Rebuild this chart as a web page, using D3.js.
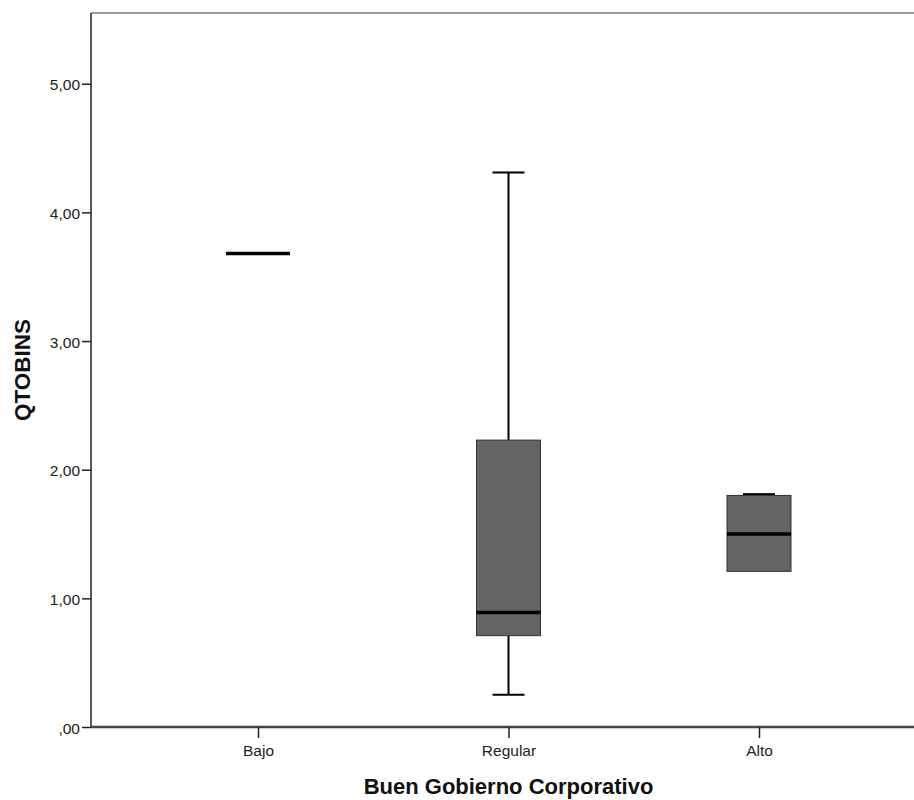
<!DOCTYPE html>
<html>
<head>
<meta charset="utf-8">
<script src="https://cdn.jsdelivr.net/npm/d3@7"></script>
<style>
  html, body { margin: 0; padding: 0; background: #fff; }
  svg { display: block; }
  text { font-family: "Liberation Sans", Arial, sans-serif; }
</style>
</head>
<body>
<svg id="chart" width="914" height="800"></svg>
<script>
// QTOBINS by level of corporate governance
const categories = ["Bajo", "Regular", "Alto"];
const whiskerLow  = [3.68, 0.25, 1.21];
const q1          = [3.68, 0.71, 1.21];
const median      = [3.68, 0.89, 1.50];
const q3          = [3.68, 2.23, 1.80];
const whiskerHigh = [3.68, 4.31, 1.81];
const yTicks = [0, 1, 2, 3, 4, 5];
const yTickLabels = [",00", "1,00", "2,00", "3,00", "4,00", "5,00"];

const svg = d3.select("#chart");
const plotLeft = 91, plotTop = 13, plotBottom = 727, plotRight = 926;

const x = d3.scalePoint().domain(categories).range([plotLeft, plotRight]).padding(2 / 3);
const y = d3.scaleLinear().domain([0, 5.55]).range([plotBottom, plotTop]);

const boxW = 64, capW = 32;

// top frame line
svg.append("line")
  .attr("x1", plotLeft).attr("x2", 914).attr("y1", plotTop).attr("y2", plotTop)
  .attr("stroke", "#9a9a9a").attr("stroke-width", 2);

// y axis
const yAxis = d3.axisLeft(y).tickValues(yTicks)
  .tickFormat((d, i) => yTickLabels[i]).tickSize(9).tickPadding(2).tickSizeOuter(0);
const gy = svg.append("g").attr("transform", `translate(${plotLeft},0)`).call(yAxis);
gy.select(".domain").attr("stroke", "#222").attr("stroke-width", 1.5)
  .attr("d", `M0,${plotTop}V${plotBottom}`);
gy.selectAll(".tick line").attr("stroke", "#222").attr("stroke-width", 1.5);
gy.selectAll(".tick text").attr("font-size", 15.5).attr("fill", "#222")
  .attr("font-family", "Liberation Sans, Arial, sans-serif").attr("dy", "0.4em");

// x axis
const xAxis = d3.axisBottom(x).tickSize(11).tickSizeOuter(0).tickPadding(7);
const gx = svg.append("g").attr("transform", `translate(0,${plotBottom})`).call(xAxis);
gx.select(".domain").attr("stroke", "#444").attr("stroke-width", 2.5)
  .attr("d", `M${plotLeft},0H914`);
gx.selectAll(".tick line").attr("stroke", "#222").attr("stroke-width", 1.5);
gx.selectAll(".tick text").attr("font-size", 15.5).attr("fill", "#222")
  .attr("font-family", "Liberation Sans, Arial, sans-serif");

// axis titles
svg.append("text")
  .attr("x", (plotLeft + plotRight) / 2).attr("y", 794)
  .attr("text-anchor", "middle").attr("font-size", 22).attr("font-weight", "bold")
  .attr("fill", "#111").text("Buen Gobierno Corporativo");
svg.append("text")
  .attr("transform", `translate(30,${(plotTop + plotBottom) / 2}) rotate(-90)`)
  .attr("text-anchor", "middle").attr("font-size", 22.5).attr("font-weight", "bold")
  .attr("fill", "#111").text("QTOBINS");

// boxes
const data = categories.map((c, i) => ({
  c, lo: whiskerLow[i], q1: q1[i], med: median[i], q3: q3[i], hi: whiskerHigh[i]
}));

const g = svg.append("g");
data.forEach(d => {
  const cx = x(d.c);
  const grp = g.append("g");
  const hasBox = d.q3 > d.q1;
  if (d.hi > d.q3 + 0.05) {
    grp.append("line").attr("x1", cx).attr("x2", cx)
      .attr("y1", y(d.q3)).attr("y2", y(d.hi))
      .attr("stroke", "#000").attr("stroke-width", 2);
  }
  if (d.hi > d.q3) {
    grp.append("line").attr("x1", cx - capW / 2).attr("x2", cx + capW / 2)
      .attr("y1", y(d.hi)).attr("y2", y(d.hi))
      .attr("stroke", "#000").attr("stroke-width", 2);
  }
  if (d.lo < d.q1 - 0.05) {
    grp.append("line").attr("x1", cx).attr("x2", cx)
      .attr("y1", y(d.q1)).attr("y2", y(d.lo))
      .attr("stroke", "#000").attr("stroke-width", 2);
    grp.append("line").attr("x1", cx - capW / 2).attr("x2", cx + capW / 2)
      .attr("y1", y(d.lo)).attr("y2", y(d.lo))
      .attr("stroke", "#000").attr("stroke-width", 2);
  }
  if (hasBox) {
    grp.append("rect")
      .attr("x", cx - boxW / 2).attr("width", boxW)
      .attr("y", y(d.q3)).attr("height", y(d.q1) - y(d.q3))
      .attr("fill", "#646464").attr("stroke", "#333").attr("stroke-width", 1);
  }
  grp.append("line").attr("x1", cx - boxW / 2).attr("x2", cx + boxW / 2)
    .attr("y1", y(d.med)).attr("y2", y(d.med))
    .attr("stroke", "#000").attr("stroke-width", 3.5);
});
</script>
</body>
</html>
